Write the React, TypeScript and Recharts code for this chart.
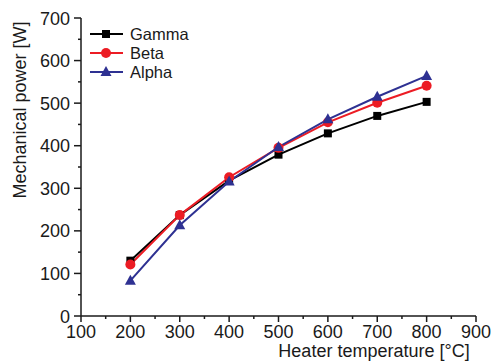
import { Legend, Line, LineChart, XAxis, YAxis } from "recharts";

const temperatures = [200, 300, 400, 500, 600, 700, 800];
const gamma = [130, 237, 318, 379, 429, 470, 503];
const beta = [121, 237, 326, 395, 455, 501, 541];
const alpha = [83, 213, 316, 397, 462, 515, 564];

const xTicks = [100, 150, 200, 250, 300, 350, 400, 450, 500, 550, 600, 650, 700, 750, 800, 850, 900];
const yTicks = [0, 50, 100, 150, 200, 250, 300, 350, 400, 450, 500, 550, 600, 650, 700];

const data = temperatures.map((t, i) => ({ t, gamma: gamma[i], beta: beta[i], alpha: alpha[i] }));

const FONT = "'Liberation Sans', Arial, sans-serif";
const INK = "#1a1a1a";
const RED = "#ec1c24";
const BLUE = "#2e3192";

const series = [
  { key: "gamma", name: "Gamma", color: "#000000", shape: "square" },
  { key: "beta", name: "Beta", color: RED, shape: "circle" },
  { key: "alpha", name: "Alpha", color: BLUE, shape: "triangle" },
];

function marker(shape: string, cx: number, cy: number, color: string, key?: string | number) {
  if (shape === "square") return <rect key={key} x={cx - 4} y={cy - 4} width={8} height={8} fill={color} />;
  if (shape === "circle") return <circle key={key} cx={cx} cy={cy} r={5} fill={color} />;
  return <path key={key} d={`M${cx},${cy - 6} L${cx + 5.5},${cy + 4} L${cx - 5.5},${cy + 4} Z`} fill={color} />;
}

function XTick(props: any) {
  const { x, y, payload } = props;
  const major = payload.value % 100 === 0;
  return (
    <g>
      <line x1={x} x2={x} y1={y} y2={y + (major ? 6 : 3)} stroke={INK} strokeWidth={1.5} />
      {major && (
        <text x={x} y={y + 22} textAnchor="middle" fontSize={18} fontFamily={FONT} fill={INK}>
          {payload.value}
        </text>
      )}
    </g>
  );
}

function YTick(props: any) {
  const { x, y, payload } = props;
  const major = payload.value % 100 === 0;
  return (
    <g>
      <line x1={x} x2={x - (major ? 7 : 3)} y1={y} y2={y} stroke={INK} strokeWidth={1.5} />
      {major && (
        <text x={x - 11} y={y + 6.5} textAnchor="end" fontSize={18} fontFamily={FONT} fill={INK}>
          {payload.value}
        </text>
      )}
    </g>
  );
}

function ChartLegend() {
  return (
    <svg width={120} height={62}>
      {series.map((s, i) => (
        <g key={s.key}>
          <line x1={2} x2={35} y1={9 + i * 19} y2={9 + i * 19} stroke={s.color} strokeWidth={2} />
          {marker(s.shape, 18, 9 + i * 19, s.color)}
          <text x={42} y={15 + i * 19} fontSize={16.5} fontFamily={FONT} fill={INK}>
            {s.name}
          </text>
        </g>
      ))}
    </svg>
  );
}

export default function App() {
  return (
    <div style={{ position: "absolute", left: 0, top: 0, width: 494, height: 364, background: "#fff" }}>
      <LineChart width={494} height={364} data={data} margin={{ top: 18, right: 18, bottom: 0, left: 0 }}>
        <XAxis
          dataKey="t"
          type="number"
          domain={[100, 900]}
          ticks={xTicks}
          interval={0}
          tickSize={0}
          tickMargin={0}
          tickLine={false}
          tick={<XTick />}
          height={48}
          stroke={INK}
          strokeWidth={1.5}
          label={{
            content: () => (
              <text x={374} y={357} textAnchor="middle" fontSize={18} fontFamily={FONT} fill={INK}>
                Heater temperature [°C]
              </text>
            ),
          }}
        />
        <YAxis
          type="number"
          domain={[0, 700]}
          ticks={yTicks}
          interval={0}
          tickSize={0}
          tickMargin={0}
          tickLine={false}
          tick={<YTick />}
          width={81}
          stroke={INK}
          strokeWidth={1.5}
          label={{
            content: () => (
              <text
                x={26}
                y={110}
                textAnchor="middle"
                fontSize={18}
                fontFamily={FONT}
                fill={INK}
                transform="rotate(-90 26 110)"
              >
                Mechanical power [W]
              </text>
            ),
          }}
        />
        <Legend
          layout="vertical"
          align="center"
          verticalAlign="middle"
          wrapperStyle={{ top: 25, left: 88, width: 120 }}
          content={() => <ChartLegend />}
        />
        {series.map((s) => (
          <Line
            key={s.key}
            dataKey={s.key}
            name={s.name}
            type="linear"
            stroke={s.color}
            strokeWidth={2}
            isAnimationActive={false}
            dot={(p: any) => marker(s.shape, p.cx, p.cy, s.color, `${s.key}-${p.index}`)}
          />
        ))}
      </LineChart>
    </div>
  );
}
